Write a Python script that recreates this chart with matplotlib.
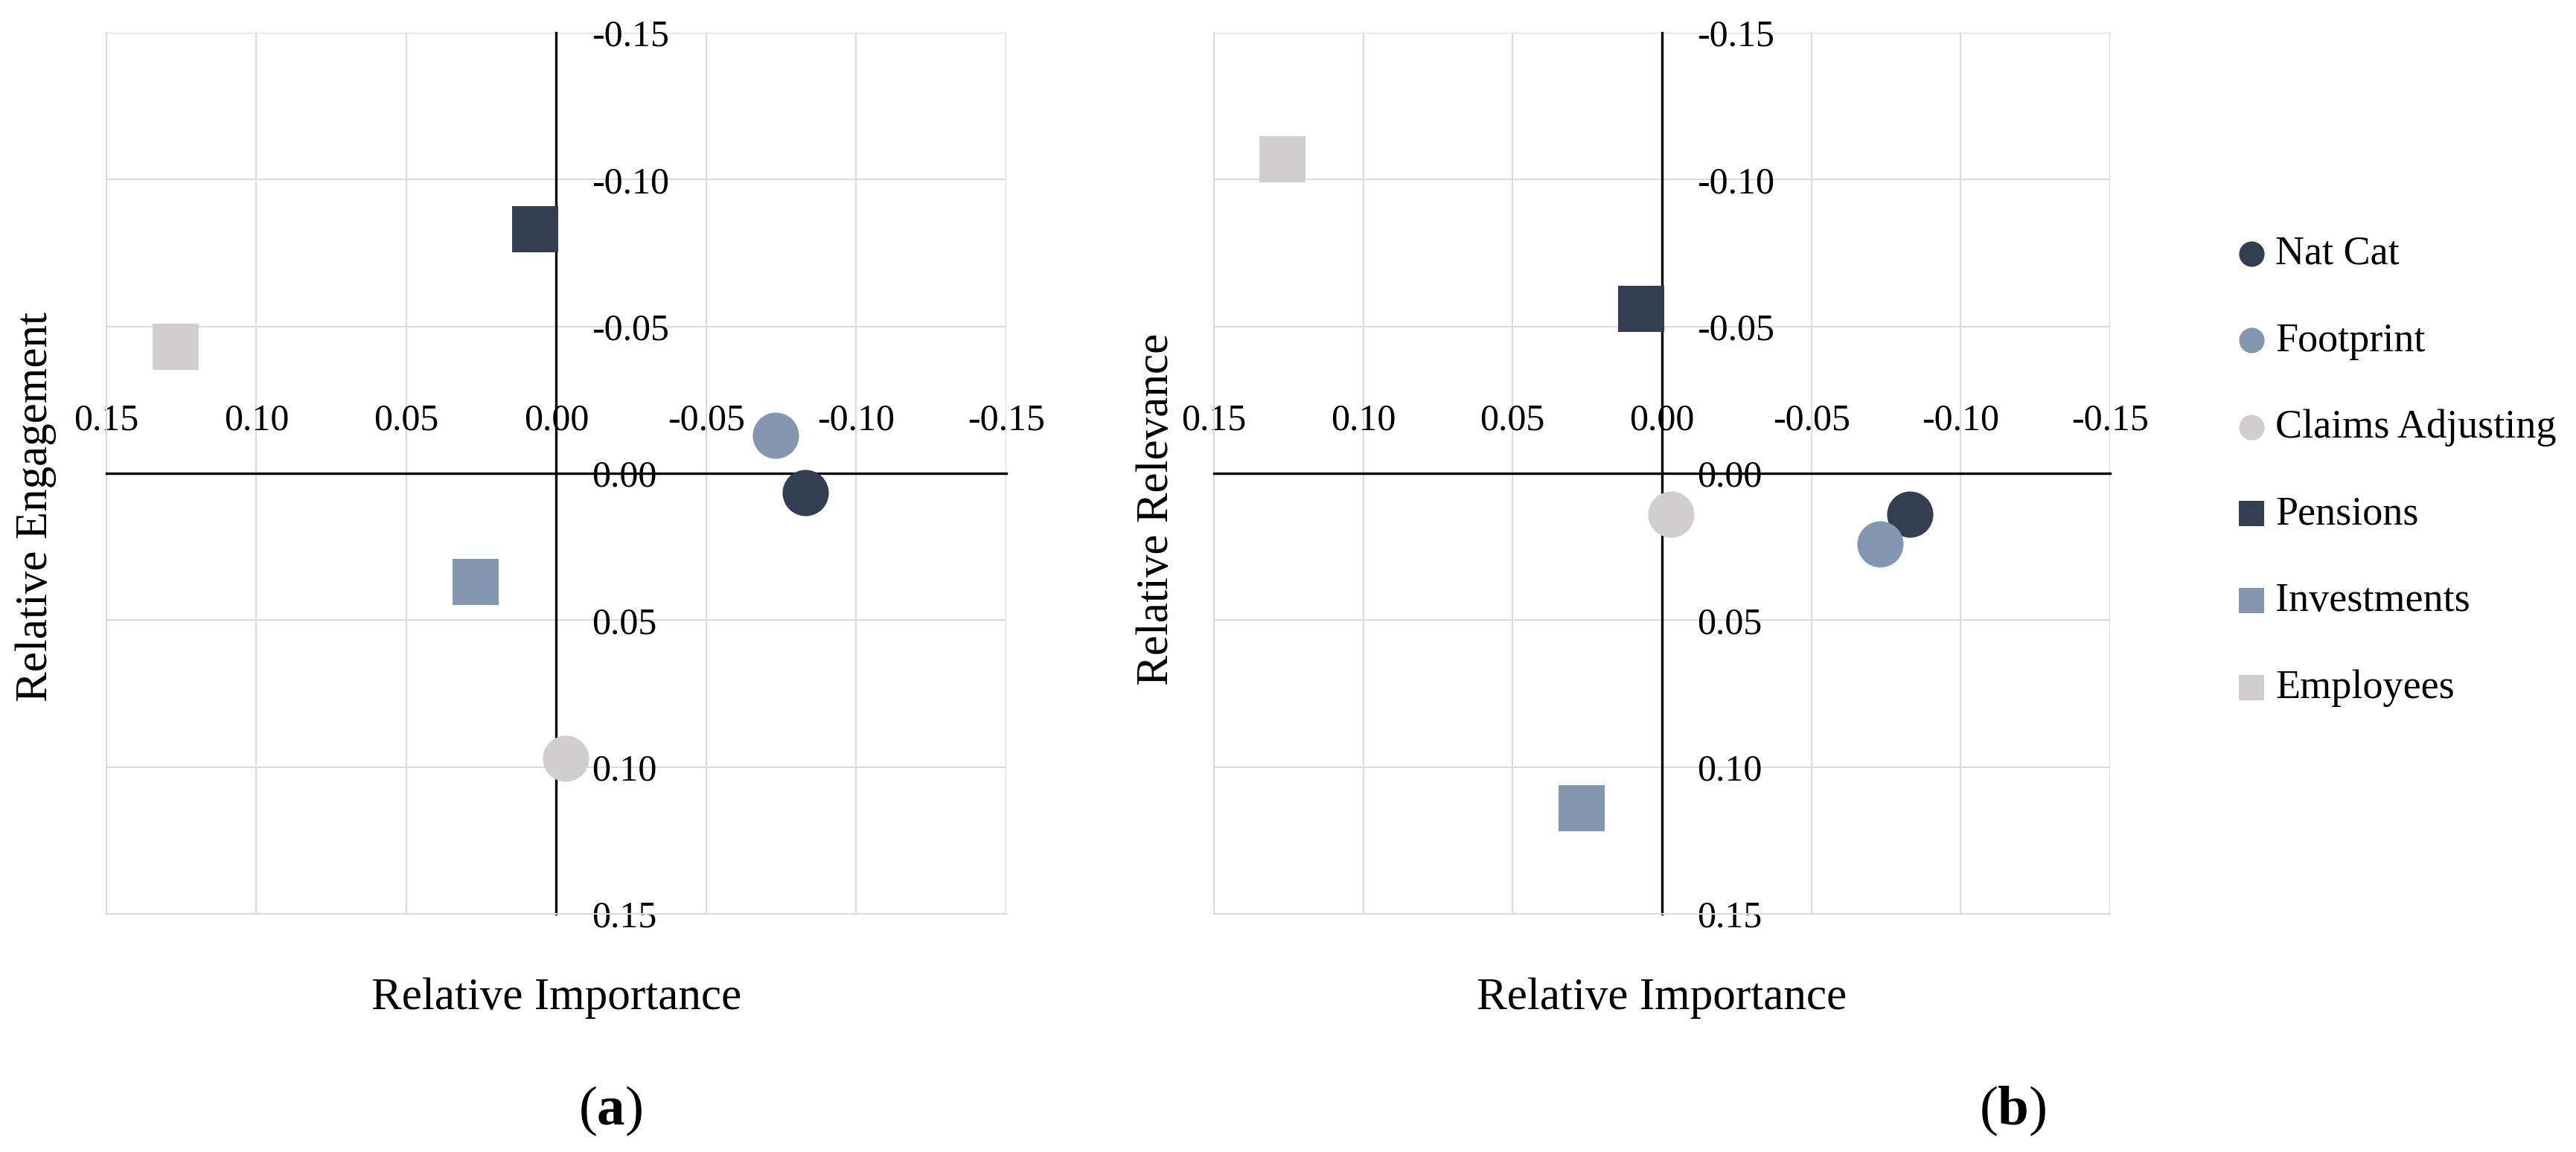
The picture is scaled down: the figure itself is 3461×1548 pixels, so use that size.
import numpy as np
import matplotlib
matplotlib.use('Agg')
import matplotlib.pyplot as plt
from matplotlib.ticker import FormatStrFormatter

plt.rcParams['font.family'] = 'Liberation Serif'
plt.rcParams['mathtext.fontset'] = 'custom'
plt.rcParams['mathtext.rm'] = 'Liberation Serif'
plt.rcParams['mathtext.bf'] = 'Liberation Serif:bold'

# data
names = ['Nat Cat', 'Footprint', 'Claims Adjusting', 'Pensions', 'Investments', 'Employees']
markers = ['o', 'o', 'o', 's', 's', 's']
colors = ['#333F50', '#8497B0', '#D0CECE', '#333F50', '#8497B0', '#D0CECE']

importance_a = [-0.083, -0.073, -0.003, 0.007, 0.027, 0.127]
engagement_a = [0.0065, -0.013, 0.097, -0.083, 0.037, -0.043]

importance_b = [-0.083, -0.073, -0.003, 0.007, 0.027, 0.127]
relevance_b = [0.014, 0.024, 0.014, -0.056, 0.114, -0.107]

ticks = [-0.15, -0.10, -0.05, 0.0, 0.05, 0.10, 0.15]

fig = plt.figure(figsize=(17.31, 7.74), dpi=200)
ax1 = fig.add_axes([0.0413, 0.2067, 0.3492, 0.7649])
ax2 = fig.add_axes([0.4711, 0.2067, 0.3478, 0.7649])


def quadrant(ax, xs, ys, ylabel, ylab_x, ylab_y):
    for i in range(len(names)):
        ax.scatter(xs[i], ys[i], s=500, marker=markers[i], color=colors[i],
                   linewidths=0, label=names[i], zorder=3)
    ax.set_xlim(0.15, -0.15)
    ax.set_ylim(0.15, -0.15)
    ax.set_xticks(ticks)
    ax.set_yticks(ticks)
    ax.xaxis.set_major_formatter(FormatStrFormatter('%.2f'))
    ax.yaxis.set_major_formatter(FormatStrFormatter('%.2f'))

    # axes crossing at zero, labels sit above / right of the lines
    ax.spines['top'].set_position(('data', 0))
    ax.spines['right'].set_position(('data', 0))
    ax.spines['top'].set_color('black')
    ax.spines['right'].set_color('black')
    ax.spines['top'].set_linewidth(1.2)
    ax.spines['right'].set_linewidth(1.2)
    ax.spines['left'].set_color('#D9D9D9')
    ax.spines['bottom'].set_color('#D9D9D9')
    ax.spines['left'].set_linewidth(0.7)
    ax.spines['bottom'].set_linewidth(0.7)
    ax.xaxis.tick_top()
    ax.yaxis.tick_right()
    ax.tick_params(axis='x', length=0, labelsize=18, pad=17)
    ax.tick_params(axis='y', length=0, labelsize=18, pad=17)
    ax.grid(color='#D9D9D9', linewidth=0.7, zorder=0)
    ax.set_axisbelow(True)

    ax.set_xlabel('Relative Importance', fontsize=22, va='center')
    ax.xaxis.set_label_coords(0.5, -0.096)
    ax.set_ylabel(ylabel, fontsize=22, va='center')
    ax.yaxis.set_label_coords(ylab_x, ylab_y)


quadrant(ax1, importance_a, engagement_a, 'Relative Engagement', -0.078, 0.462)
quadrant(ax2, importance_b, relevance_b, 'Relative Relevance', -0.064, 0.459)

handles, labels = ax2.get_legend_handles_labels()
fig.legend(handles, labels, loc='center left', bbox_to_anchor=(0.869, 0.591),
           frameon=False, fontsize=19.5, markerscale=0.55, handlelength=0.6,
           handletextpad=0.3, labelspacing=1.22, borderpad=0, borderaxespad=0)

fig.text(0.237, 0.0355, r'($\mathbf{a}$)', ha='center', va='center', fontsize=27)
fig.text(0.781, 0.0355, r'($\mathbf{b}$)', ha='center', va='center', fontsize=27)

fig.savefig('out.png', dpi=200)
